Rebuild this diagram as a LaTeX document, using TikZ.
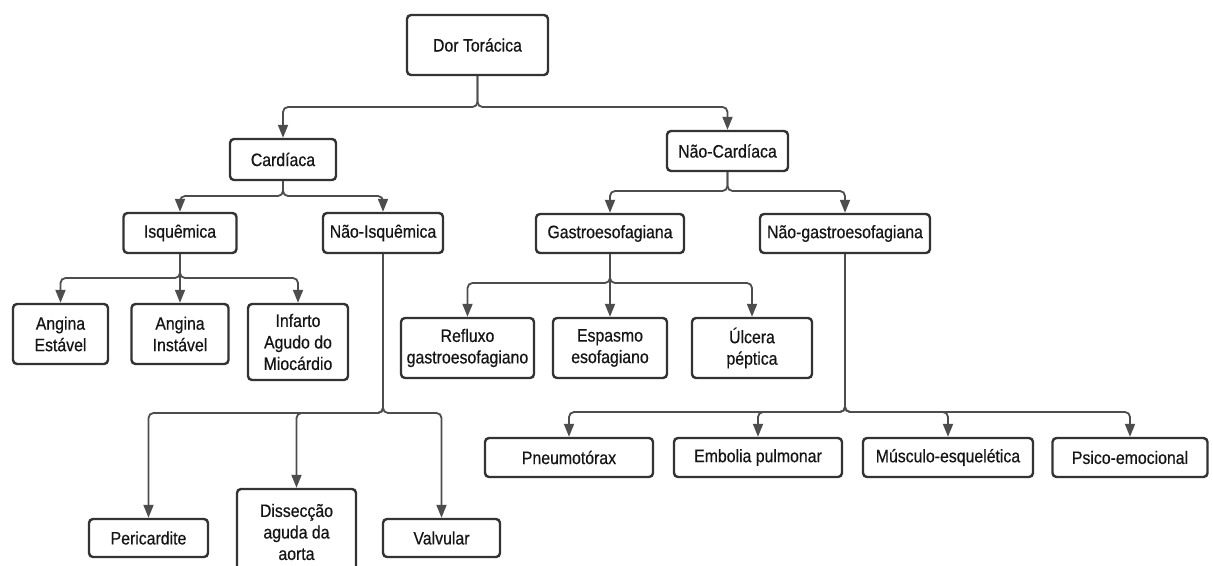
\documentclass[tikz,border=0pt]{standalone}
\usepackage{fontspec}
\setmainfont{Liberation Sans}[FakeStretch=0.88,FakeBold=0.5]
\usetikzlibrary{arrows.meta}
\definecolor{boxline}{HTML}{333333}
\definecolor{wire}{HTML}{4D4D4D}
\definecolor{ink}{HTML}{151515}
\tikzset{
  box/.style={draw=boxline, line width=2.4pt, rounded corners=4pt, fill=white,
    text=ink, align=center, inner sep=0pt, font=\fontsize{18}{21.5}\selectfont},
  sz/.style 2 args={minimum width=#1pt, minimum height=#2pt},
  conn/.style={draw=wire, line width=1.8pt, rounded corners=5pt,
    -{Triangle[length=13pt,width=10pt]}}
}
\begin{document}
\begin{tikzpicture}[x=1pt,y=-1pt]
  \useasboundingbox (0,0) rectangle (1213,565);
  \clip (0,0) rectangle (1213,565);
  \fill[white] (0,0) rectangle (1213,565);

  % root and first level
  \node[box, sz={141}{60}] (dor) at (477.5,45) {Dor Torácica};
  \node[box, sz={106}{41}] (card) at (283,159.5) {Cardíaca};
  \node[box, sz={121}{40}] (ncard) at (727.5,151) {Não-Cardíaca};

  % cardiac branch
  \node[box, sz={113}{40}] (isq) at (180,233) {Isquêmica};
  \node[box, sz={120}{40}] (nisq) at (383,233) {Não-Isquêmica};
  \node[box, sz={95}{60}] (ae) at (60.5,334) {Angina\\Estável};
  \node[box, sz={97}{60}] (ai) at (180,334) {Angina\\Instável};
  \node[box, sz={100}{76}] (iam) at (298,342) {Infarto\\Agudo do\\Miocárdio};
  \node[box, sz={119}{38}] (peri) at (148.5,538) {Pericardite};
  \node[box, sz={119}{86}] (diss) at (296.5,532) {Dissecção\\aguda da\\aorta};
  \node[box, sz={117}{38}] (valv) at (441.5,538) {Valvular};

  % non-cardiac branch
  \node[box, sz={148}{39}] (gastro) at (610,233.5) {Gastroesofagiana};
  \node[box, sz={170}{39}] (ngastro) at (845,233.5) {Não-gastroesofagiana};
  \node[box, sz={133}{60}] (refl) at (467.5,348) {Refluxo\\gastroesofagiano};
  \node[box, sz={114}{60}] (esp) at (610,348) {Espasmo\\esofagiano};
  \node[box, sz={120}{60}] (ulc) at (752,348) {Úlcera\\péptica};
  \node[box, sz={168}{39}] (pneu) at (569,457.5) {Pneumotórax};
  \node[box, sz={168}{39}] (emb) at (758,457.5) {Embolia pulmonar};
  \node[box, sz={170}{39}] (musc) at (948,457.5) {Músculo-esquelética};
  \node[box, sz={155}{39}] (psico) at (1130,457.5) {Psico-emocional};

  % junction points of the branches
  \coordinate (j0) at (477.5,107);
  \coordinate (j1) at (283,196);
  \coordinate (j2) at (180,278);
  \coordinate (j3) at (383,413);
  \coordinate (j4) at (727.5,191);
  \coordinate (j5) at (610,283);
  \coordinate (j6) at (845,412);

  % connectors
  \draw[conn] (dor) -- (j0) -| (card);
  \draw[conn] (dor) -- (j0) -| (ncard);

  \draw[conn] (card) -- (j1) -| (isq);
  \draw[conn] (card) -- (j1) -| (nisq);

  \draw[conn] (isq) -- (j2) -| (ae);
  \draw[conn] (isq) -- (ai);
  \draw[conn] (isq) -- (j2) -| (iam);

  \draw[conn] (nisq) -- (j3) -| (peri);
  \draw[conn] (nisq) -- (j3) -| (diss);
  \draw[conn] (nisq) -- (j3) -| (valv);

  \draw[conn] (ncard) -- (j4) -| (gastro);
  \draw[conn] (ncard) -- (j4) -| (ngastro);

  \draw[conn] (gastro) -- (j5) -| (refl);
  \draw[conn] (gastro) -- (esp);
  \draw[conn] (gastro) -- (j5) -| (ulc);

  \draw[conn] (ngastro) -- (j6) -| (pneu);
  \draw[conn] (ngastro) -- (j6) -| (emb);
  \draw[conn] (ngastro) -- (j6) -| (musc);
  \draw[conn] (ngastro) -- (j6) -| (psico);
\end{tikzpicture}
\end{document}
